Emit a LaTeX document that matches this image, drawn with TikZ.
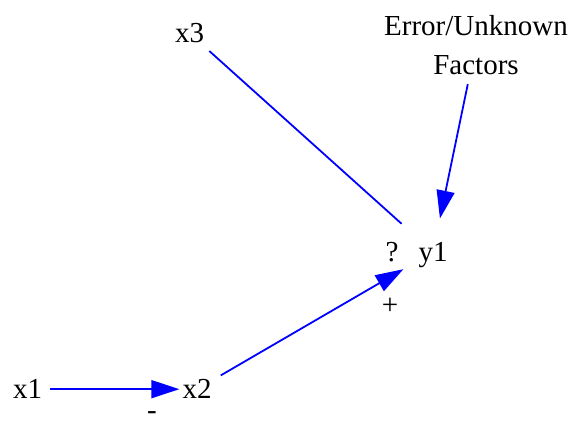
\documentclass[tikz,border=0pt]{standalone}
\usepackage{fontspec}
\setmainfont{Liberation Serif}
\newfontfamily\graphfont{Liberation Serif}
\usepackage{tikz}
\usetikzlibrary{positioning,arrows.meta}

\begin{document}
\begin{tikzpicture}[
  x=1pt,y=1pt,
  font=\graphfont\fontsize{29}{39}\selectfont,
  var/.style={inner sep=3pt,text depth=0pt},
  sgn/.style={inner sep=0pt,text depth=0pt},
  ln/.style={blue,line width=1.8pt},
  ar/.style={ln,-{Triangle[length=28pt,width=18pt]}}]
  \useasboundingbox (0,0) rectangle (571,422);
  \node[var] (x1) at (27.5,32.8) {x1};
  \node[var] (x2) at (197,32.8) {x2};
  \node[var] (x3) at (189.5,388.8) {x3};
  \node[var,circle,minimum size=68pt] (y1) at (433,170) {y1};
  \node[var,align=center] (err) at (476,377.5) {Error/Unknown\\Factors};
  \node[sgn,left=0pt of y1] (q) {?};
  \node[sgn] (plus) at ([xshift=-43pt,yshift=-54pt]y1.center) {+};
  \node[sgn] (minus) at ([xshift=-45pt,yshift=-26pt]x2.center) {-};
  \draw[ar,shorten <=5pt] (x1) -- (x2);
  \draw[ar,shorten <=7pt] (x2) -- (y1);
  \draw[ln,shorten <=7.5pt,shorten >=8pt] (x3) -- (y1);
  \draw[ar,shorten <=7pt] (err) -- (y1);
\end{tikzpicture}
\end{document}
